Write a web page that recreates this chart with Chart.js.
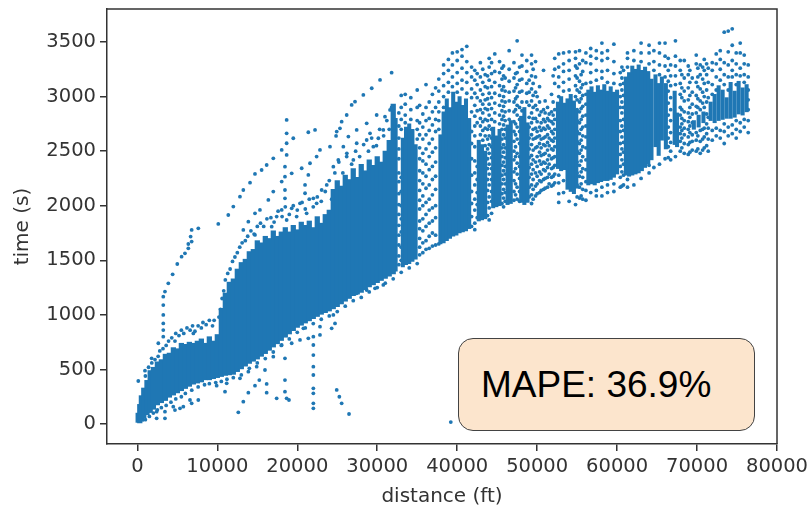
<!DOCTYPE html>
<html>
<head>
<meta charset="utf-8">
<script src="https://cdn.jsdelivr.net/npm/chart.js@4"></script>
<style>
  body { margin: 0; background: #fff; }
  #wrap { position: relative; width: 811px; height: 506px; overflow: hidden; }
  #myChart { filter: blur(0.4px); }
  #mape {
    position: absolute; left: 458px; top: 338px; width: 273px; height: 91px;
    background: #fce5cd; border: 1.5px solid #434343; border-radius: 15px;
    font: 37px "Liberation Sans", Arial, sans-serif; color: #000;
    line-height: 91px; padding-left: 22px;
  }
</style>
</head>
<body>
<div id="wrap">
  <canvas id="myChart" width="811" height="509"></canvas>
  <div id="mape">MAPE: 36.9%</div>
</div>
<script>
const xTicks = [0,10000,20000,30000,40000,50000,60000,70000,80000];
const yTicks = [0,500,1000,1500,2000,2500,3000,3500];

const bandX = [100,300,500,800,1200,1600,2000,2500,3000,3500,4000,4500,5000,5500,6000,6500,7000,7500,8000,8500,9000,9500,10000,10500,11000,11500,12000,12500,13000,13500,14000,14500,15000,15500,16000,16500,17000,17500,18000,18500,19000,19500,20000,20500,21000,21500,22000,22500,23000,23500,24000,24500,25000,25500,26000,26500,27000,27500,28000,28500,29000,29500,30000,30500,31000,31500,32000];
const bandLow = [15,10,25,55,85,105,135,175,195,215,245,265,285,305,325,345,365,375,385,405,405,415,425,435,445,450,455,480,505,530,555,575,595,620,645,675,705,735,765,795,825,855,885,905,925,945,965,985,1005,1020,1035,1055,1075,1100,1125,1150,1175,1190,1205,1230,1255,1275,1295,1315,1335,1355,1375];
const bandHigh = [100,180,260,330,400,490,520,570,590,640,650,700,690,740,730,750,740,760,780,740,800,760,820,1060,1200,1300,1330,1420,1480,1510,1580,1600,1680,1660,1720,1700,1770,1720,1760,1800,1760,1820,1780,1850,1820,1860,1800,1900,1840,1920,1960,2150,2230,2180,2280,2240,2340,2260,2380,2320,2420,2370,2450,2400,2500,2600,2930];

// the separate blocks further out: distance, low, high
const blocks = [
  [32300,1400,2800],[33200,1440,2620],[33600,1460,2720],[34000,1470,2750],[34400,1490,2700],[34800,1510,2560],
  [37900,1650,2650],[38300,1660,2860],[38700,1680,2980],[39100,1700,2900],[39500,1720,3040],[39900,1730,2950],[40300,1750,3000],[40700,1760,2920],[41100,1770,2980],[41500,1790,2800],
  [42700,1860,2600],[43100,1870,2560],[43500,1880,2500],
  [44500,1980,2720],[44900,1990,2640],[45300,2000,2700],
  [46300,2010,2740],[46700,2020,2780],
  [48000,2030,2820],[48400,2010,2900],[48800,2030,2760],
  [52600,2340,2950],[53000,2320,3000],[53400,2330,2940],[53800,2150,2980],[54200,2130,3020],[54600,2110,2960],[54900,2160,2880],
  [56400,2190,3060],[56800,2200,3090],[57200,2190,3040],[57600,2210,3100],[58000,2220,3060],[58400,2230,3110],[58800,2230,3050],[59200,2240,3090],[59600,2260,3040],[60000,2290,3060],
  [61100,2280,3180],[61500,2270,3220],[61900,2280,3280],[62300,2290,3250],[62700,2300,3290],[63100,2320,3240],[63500,2350,3270],[63900,2380,3230],
  [64300,2420,3160],[64800,2540,3200],[65200,2460,3120],[65600,2600,3180],[66100,2520,3120],
  [67200,2560,3050],[67500,2540,2850],
  [69600,2700,2780],[70200,2720,2830],[70800,2760,2860],
  [71700,2780,2950],[72200,2760,3020],[72700,2780,3100],[73200,2790,3060],[73700,2800,2990],[74200,2800,3130],[74700,2810,3050],[75200,2840,3140],[75700,2830,3080],[76200,2860,3110]
];

// stray points around the cloud
const strayX = [2410,3450,3450,2410,4700,5745,6580,7620,6790,4490,5330,12625,13250,13880,14710,15250,16170,16170,17420,18460,18460,18670,18960,18460,15960,14920,22010,22010,22010,22010,22010,22010,22010,22010,22010,24930,25260,25550,26470,10960,9915,11170,12830,13880,17000,18050,19300,20340,21380,22840,24300,24720,24510,28680,29720,30760,27430,22840,20760,39200,115,950,1780,2620,3240,3240,3240,3240,3240,3240,3450,3870,4410,4990,5530,5950,6370,6790,6370,6660,6790,7620,10120,11370,12000,12830,13250,14090,14710,15540,16170,17000,18050,18670,18670,18670,19500,21380,22220,18670,18460,18460,18050,18460,18460,17000,16380,15330,14710,13880,13250,14710,19300,20550,21590,22840,24090,22420,21380,20970,20970,24850,25340,26180,26800,27220,28260,29310,30350,31800,25550,24930,16800,17420,18050,19300,20340,22010,23050,23680,18670,19920,21170,22420,24510,25130,25760,26390,27430,28680,29930,30970,28680,29510,27010,26180,27430,30760,29100,30140,31600];
const strayY = [52,52,113,113,128,159,220,220,190,159,144,107,205,287,351,403,367,287,235,403,296,235,220,602,495,525,144,190,281,327,449,525,632,724,800,312,250,190,92,296,351,373,419,480,617,724,740,770,785,816,877,922,999,1228,1243,1274,1197,892,877,18,394,489,602,740,800,861,922,999,1090,1167,1213,1289,1371,1466,1533,1564,1649,1671,1610,1717,1778,1793,1833,1915,1992,2083,2144,2211,2291,2327,2373,2434,2511,2572,2663,2786,2618,2673,2694,2465,2358,2266,2221,2144,2068,2129,2053,1961,1930,1854,1778,1732,2297,2343,2389,2511,2541,2450,2282,2190,2114,2639,2709,2831,2923,2953,3015,3076,3152,3219,2770,2679,1808,1900,1961,1976,2022,2068,2144,2190,1869,1900,1930,2022,2358,2419,2541,2633,2694,2755,2831,2816,2602,2541,2419,2450,2572,2694,2663,2618,2877];

// ragged upper and lower edge of the solid part
const edgePairs = [
  [1000,440],[1400,520],[1800,560],[2200,590],[2600,620],[2800,670],[3200,690],[3600,720],[3900,760],[4300,790],[4700,760],[4800,830],[5200,810],[5500,860],[5800,830],[6200,880],[6600,860],[6900,900],[7200,850],[7600,900],[8000,880],[8200,930],[8600,910],[9000,950],[9400,900],[9600,950],[7000,830],
  [1000,40],[1500,70],[2000,100],[2500,130],[3000,150],[3600,170],[4200,200],[4800,230],[5500,250],[6000,280],[6800,310],[7600,340],[8400,360],[9000,370],[9800,380],[10500,390],[11200,410],[12000,425],[13000,450],[14000,510],[15000,560],[16000,600],[17000,660],[18000,720],[19000,780],[20000,840],[21000,880],[22000,920],[23000,960],[24000,990],[25000,1030],[26000,1080],[27000,1130],[28000,1160],[29000,1210],[30000,1250],[31000,1290],[32000,1330],[33000,1390],[34000,1430],[35000,1470],
  [10200,980],[10400,1050],[10600,1150],[10800,1220],[11000,1320],[11300,1380],[11600,1420],[11900,1490],[12200,1530],[12500,1570],[12800,1620],[13100,1660],[13500,1680],[13800,1720],[14200,1770],[14600,1740],[15000,1810],[15400,1840],[15800,1810],[16200,1880],[16700,1890],[17100,1850],[17600,1950],[18100,1900],[18500,1990],[19000,1920],[19500,2000],[20000,1960],[20600,2030],[21000,1970],[21500,2060],[22000,1990],[22500,2080],[23000,2040],[23500,2130],[24000,2230],[24300,2060],[24700,2300],[25200,2400],[25700,2300],[26200,2480],[26800,2380],[27300,2500],[27800,2450],[28300,2560],[28900,2500],[29300,2620],[29900,2550],[30300,2700],[30800,2640],[31200,2780],[31500,2700],[31800,2900]
];

// mottled columns on the long trips, one y list per distance
const colX = [32700,33000,33500,34200,35000,35300,35700,36100,36500,36900,37300,37700,38300,38900,39400,40000,40600,41200,41800,42200,42900,43500,44000,44700,45300,45800,46500,47100,47500,48100,48700,49300,49800,50300,50800,51300,51800,52200,52700,53300,54000,54800,55300,55700,56100,56700,57400,58100,58800,59600,60400,60800,61300,62100,63000,64000,64600,65300,66000,66700,67300,67900,68400,68900,69400,69900,70400,70900,71400,71900,72400,72900,73400,73900,74400,74900,75400,75900,76400,42500,43200,43800,44300,45600,46000,47300,47800,49000,49500,50000,50500,51000,51500,52000,55000,55500,60600,66400,68100,69100,70100,70700,71200];
const colY = [
  [1460,1540,1640,1730,1820,1920,2010,2110,2220,2300,2430,2520,2620,2730,2850],
  [1500,1620,1760,1880,2000,2130,2260,2700,2790,2900,3010],
  [2760,2830,2930,3020],
  [2790,2880,2990],
  [2610,2700,2780,2900,3060],
  [1550,1620,1700,1790,1860,1970,2050,2140,2230,2320,2430,2530,2650,2760,2920],
  [1570,1660,1770,1880,2000,2090,2200,2300,2410,2480,2610,2720,2840],
  [1600,1680,1810,1920,2030,2160,2270,2380,2520,2650,2780,2900,3110],
  [1610,1720,1840,1960,2060,2190,2330,2450,2570,2690,2800,2950],
  [1630,1750,1860,1980,2100,2240,2360,2490,2610,2740,2860,3020],
  [1640,1730,1890,2000,2150,2270,2400,2530,2680,2790,2900,3080],
  [1650,2700,2780,2860,2950,3050,3160],
  [2900,3000,3100,3210,3290],
  [3040,3130,3240,3340],
  [3090,3180,3290,3400],
  [3040,3120,3220,3330,3410],
  [3070,3150,3260,3370,3430],
  [3030,3130,3220,3320,3460],
  [1810,1900,2020,2130,2280,2430,2570,2680,2860,2990,3070,3180,3270],
  [1780,1840,1960,2060,2190,2300,2410,2540,2640,2730,2820,2920,3030,3150,3240],
  [2650,2730,2800,2880,2960,3060,3180,3310],
  [2550,2640,2710,2790,2890,2970,3090,3200],
  [1870,1980,2080,2190,2290,2380,2480,2560,2640,2730,2830,2930,3030,3150,3270,3350],
  [2770,2850,2940,3030,3130,3230,3390],
  [2750,2830,2920,3010,3100,3220,3320],
  [1990,2070,2150,2240,2320,2400,2490,2560,2650,2740,2820,2910,3000,3090,3190,3280],
  [2790,2870,2960,3040,3140,3250,3420],
  [2050,2130,2230,2310,2420,2500,2590,2680,2770,2860,2950,3050,3170,3310],
  [2060,2170,2290,2390,2480,2610,2720,2830,2920,3000,3110,3220,3510],
  [2870,2950,3050,3160,3280,3380],
  [2950,3030,3120,3230,3330],
  [2020,2100,2190,2290,2380,2460,2560,2650,2760,2850,2960,3070,3190,3300,3380],
  [2090,2180,2300,2400,2530,2620,2710,2800,2920,3040,3180,3320],
  [2120,2230,2310,2410,2490,2570,2640,2720,2830,2950,3090],
  [2150,2240,2330,2400,2470,2560,2620,2710,2790,2880,3240],
  [2170,2260,2350,2420,2510,2580,2650,2730,2800,2900],
  [2180,2260,2340,2430,2520,2600,2680,2770,2860,3020],
  [2210,2290,2370,2450,2540,2620,2700,2790,2880,3120,3250,3350],
  [2030,2110,2210,2280,3000,3090,3180,3270,3390],
  [2120,2230,3050,3130,3230,3300,3400],
  [2040,3060,3160,3240,3330,3410],
  [2010,3000,3100,3190,3280,3350,3410],
  [2070,2170,2270,2370,2480,2570,2660,2760,2860,2950,3040,3140,3300,3420],
  [2060,2150,2260,2340,2450,2540,2640,2720,2820,2910,3010,3110,3230,3330],
  [2050,2140,2220,2330,2420,2530,2630,2730,2830,2930,3020,3120,3310,3400],
  [2120,3130,3220,3300,3370,3440],
  [2090,2140,3150,3240,3350,3420],
  [2090,2170,3170,3230,3330,3400,3490],
  [2120,2190,3130,3240,3350,3420],
  [2130,2200,3120,3210,3320,3480],
  [2170,2260,2360,2470,2570,2680,2780,2900,3000,3110,3220],
  [2190,2280,2380,2490,2580,2690,2790,2900,3010,3120,3240],
  [2170,2240,3270,3350,3400],
  [2190,3330,3420],
  [2250,3320,3400,3490],
  [2300,2370,3300,3400,3470],
  [2350,3240,3320,3420],
  [2380,3200,3290,3400,3490],
  [2430,3180,3280,3370,3490],
  [2420,2500,2580,2670,2780,2880,2990,3100,3190,3290],
  [2450,3110,3190,3280,3370,3510],
  [2500,2590,2660,2720,2830,2900,3020,3120,3240,3330],
  [2480,2570,2650,2710,2780,2860,2960,3050,3170,3330],
  [2470,2560,2630,2700,2770,2850,2970,3080,3200,3280],
  [2510,2590,2650,2760,2840,2930,3040,3170],
  [2500,2600,2670,2850,2910,3010,3130,3300,3380],
  [2480,2590,2690,2880,2960,3070,3200,3290],
  [2530,2630,2710,2900,3000,3120,3240,3340],
  [2500,2610,2710,2810,2990,3130,3260],
  [2600,2690,3020,3110,3240,3310],
  [2640,2710,3060,3180,3300,3390],
  [2620,2690,3150,3250,3340,3420],
  [2570,2680,2750,3110,3200,3310,3590],
  [2640,2720,3060,3180,3290,3410,3600],
  [2660,2740,3180,3240,3330,3470,3620],
  [2620,2700,2780,3110,3200,3300,3400],
  [2680,2760,3190,3260,3400,3490],
  [2720,2790,3130,3200,3300,3380],
  [2670,2780,2880,2970,3060,3180,3290],
  [1890,2010,2120,2240,2360,2760,2870,2990,3110,3210],
  [2600,2690,2770,2850,2930,3020,3130,3250],
  [1910,2030,2140,2240,2340,2430,2520,2610,2700,2780,2880,2980,3080,3190],
  [1930,2040,2130,2240,2340,2440,2540,2620,2700,2790,2890,2990,3090,3210,3310],
  [2020,2110,2200,2280,2370,2450,2530,2610,2700,2790,2870,2960,3060,3160,3260],
  [2040,2120,2200,2290,2360,2440,2530,2620,2700,2780,2860,2950,3050,3170],
  [2100,2200,2340,2450,2540,2650,2750,2880,2980,3080,3210],
  [2040,2130,2250,2360,2450,2570,2680,2790,2900,3040,3150,3270],
  [2080,2170,2260,2350,2440,2520,2620,2720,2810,2920,3040,3150],
  [2060,2150,2240,2330,2420,2510,2610,2700,2800,2900,3010,3120,3250],
  [2110,2200,2270,2360,2450,2540,2630,2680,2770,2880,3000],
  [2140,2220,2290,2380,2460,2530,2610,2690,2760,2860],
  [2160,2250,2320,2390,2480,2550,2630,2700,2770,2850,2960],
  [2200,2290,2380,2460,2550,2620,2710,2780,2840],
  [2190,2270,2350,2440,2510,2590,2660,2750,2830,2950,3190],
  [2080,2190,2300,2400,2500,2590,2680,2780,2880,2970,3060,3170,3260],
  [2090,2200,2310,2410,2510,2600,2700,2790,2890,2980,3080,3200],
  [2180,2310,2420,2520,2630,2730,2850,2950,3060,3170,3270],
  [2440,2540,2620,2720,2830,2940,3050,3140,3240,3350],
  [2530,2620,2690,2750,2800,2880,2990,3080,3200],
  [2490,2580,2670,2730,2810,2900,3010,3130,3240],
  [2520,2640,2900,2980,3090,3180,3260],
  [2510,2610,2700,2940,3040,3160,3270],
  [2550,2660,2750,2840,2950,3060,3200,3300]
];

const blue = "#1f77b4";
const ink = "#333333";

const bandPoints = bandX.map((x, i) => ({ x: x, y: [bandLow[i], bandHigh[i]] }));
const blockPoints = blocks.map(b => ({ x: b[0], y: [b[1], b[2]] }));
const loosePoints = strayX.map((x, i) => ({ x: x, y: strayY[i] }));
edgePairs.forEach(p => loosePoints.push({ x: p[0], y: p[1] }));
colX.forEach((x, i) => colY[i].forEach(y => loosePoints.push({ x: x, y: y })));

function axis(ticks, min, max, label, titleTop) {
  return {
    type: "linear", min: min, max: max, offset: false,
    grid: { offset: false, drawOnChartArea: false, drawTicks: true, tickLength: 7, color: ink, lineWidth: 1.5 },
    border: { color: ink, width: 1.5 },
    afterBuildTicks(s) { s.ticks = ticks.map(v => ({ value: v })); },
    ticks: {
      color: ink, autoSkip: false, maxRotation: 0, padding: 4,
      font: { family: "DejaVu Sans", size: 19.5 },
      callback: v => String(v)
    },
    title: { display: true, text: label, color: ink, padding: { top: titleTop, bottom: 0 },
             font: { family: "DejaVu Sans", size: 20 } }
  };
}

function fixSize(s) {
  s.paddingTop = 0; s.paddingBottom = 0; s.paddingLeft = 0; s.paddingRight = 0;
}
const xAxis = axis(xTicks, -3800, 80000, "distance (ft)", 0);
xAxis.afterFit = s => { s.height = 65; fixSize(s); };
const yAxis = axis(yTicks, -183, 3802, "time (s)", 11);
yAxis.afterFit = s => { s.width = 107; fixSize(s); };

// top and right frame lines
const frame = {
  id: "frame",
  afterDraw(c) {
    const a = c.chartArea, g = c.ctx;
    g.save();
    g.strokeStyle = ink; g.lineWidth = 1.5;
    g.beginPath();
    g.moveTo(a.left, a.top); g.lineTo(a.right, a.top); g.lineTo(a.right, a.bottom);
    g.stroke();
    g.restore();
  }
};

new Chart("myChart", {
  data: {
    datasets: [
      { type: "bar", data: bandPoints, backgroundColor: blue, barThickness: 4.6, borderWidth: 0, grouped: false },
      { type: "bar", data: blockPoints, backgroundColor: blue, barThickness: 3.4, borderWidth: 0, grouped: false },
      { type: "scatter", data: loosePoints, backgroundColor: blue, pointRadius: 1.9, borderWidth: 0 }
    ]
  },
  options: {
    responsive: false, animation: false,
    layout: { padding: { left: 0, top: 9, right: 34, bottom: 0 } },
    plugins: { legend: { display: false }, tooltip: { enabled: false } },
    scales: { x: xAxis, y: yAxis }
  },
  plugins: [frame]
});
</script>
</body>
</html>
